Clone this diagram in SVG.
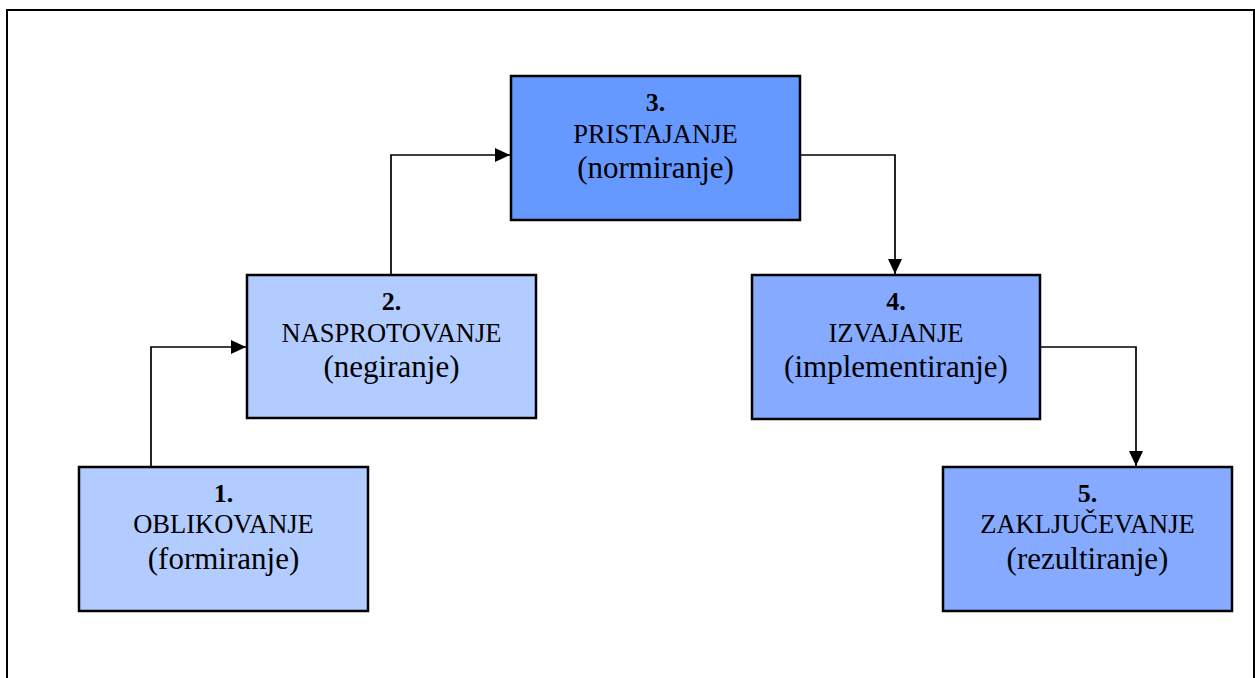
<svg xmlns="http://www.w3.org/2000/svg" width="1255" height="678" viewBox="0 0 1255 678">
<style>
.box{stroke:#000;stroke-width:2.5}
.c1{fill:#B3CCFF}
.c3{fill:#6699FF}
.c4{fill:#85AAFF}
text{font-family:"Liberation Serif","Times New Roman",serif;fill:#000;text-anchor:middle}
.t1{font-size:26px;font-weight:bold}
.t2{font-size:26.5px}
.t3{font-size:31px}
.conn{fill:none;stroke:#000;stroke-width:1.7}
</style>
<defs>
<marker id="arr" markerWidth="15" markerHeight="14" refX="15" refY="7" orient="auto" markerUnits="userSpaceOnUse">
<path d="M0,0 L15,7 L0,14 Z" fill="#000"/>
</marker>
</defs>
<rect width="1255" height="678" fill="#fff"/>
<path d="M7,678 V10 H1254 V678" fill="none" stroke="#000" stroke-width="2"/>
<g id="connectors">
<path class="conn" d="M151,466 V347 H246" marker-end="url(#arr)"/>
<path class="conn" d="M391,274 V155 H510" marker-end="url(#arr)"/>
<path class="conn" d="M800,155 H895 V274" marker-end="url(#arr)"/>
<path class="conn" d="M1040,347 H1136 V466" marker-end="url(#arr)"/>
</g>
<g id="node1">
<rect class="box c1" x="79" y="467" width="289" height="144"/>
<text class="t1" x="223.5" y="502">1.</text>
<text class="t2" x="223.5" y="533">OBLIKOVANJE</text>
<text class="t3" x="223.5" y="569">(formiranje)</text>
</g>
<g id="node2">
<rect class="box c1" x="247" y="275" width="289" height="143"/>
<text class="t1" x="391.5" y="310">2.</text>
<text class="t2" x="391.5" y="342">NASPROTOVANJE</text>
<text class="t3" x="391.5" y="377">(negiranje)</text>
</g>
<g id="node3">
<rect class="box c3" x="511" y="76" width="289" height="144"/>
<text class="t1" x="655.5" y="111">3.</text>
<text class="t2" x="655.5" y="143">PRISTAJANJE</text>
<text class="t3" x="655.5" y="178">(normiranje)</text>
</g>
<g id="node4">
<rect class="box c4" x="752" y="275" width="288" height="144"/>
<text class="t1" x="896" y="310">4.</text>
<text class="t2" x="896" y="342">IZVAJANJE</text>
<text class="t3" x="896" y="377">(implementiranje)</text>
</g>
<g id="node5">
<rect class="box c4" x="943" y="467" width="289" height="144"/>
<text class="t1" x="1087.5" y="502">5.</text>
<text class="t2" x="1087.5" y="533">ZAKLJUČEVANJE</text>
<text class="t3" x="1087.5" y="569">(rezultiranje)</text>
</g>
</svg>
